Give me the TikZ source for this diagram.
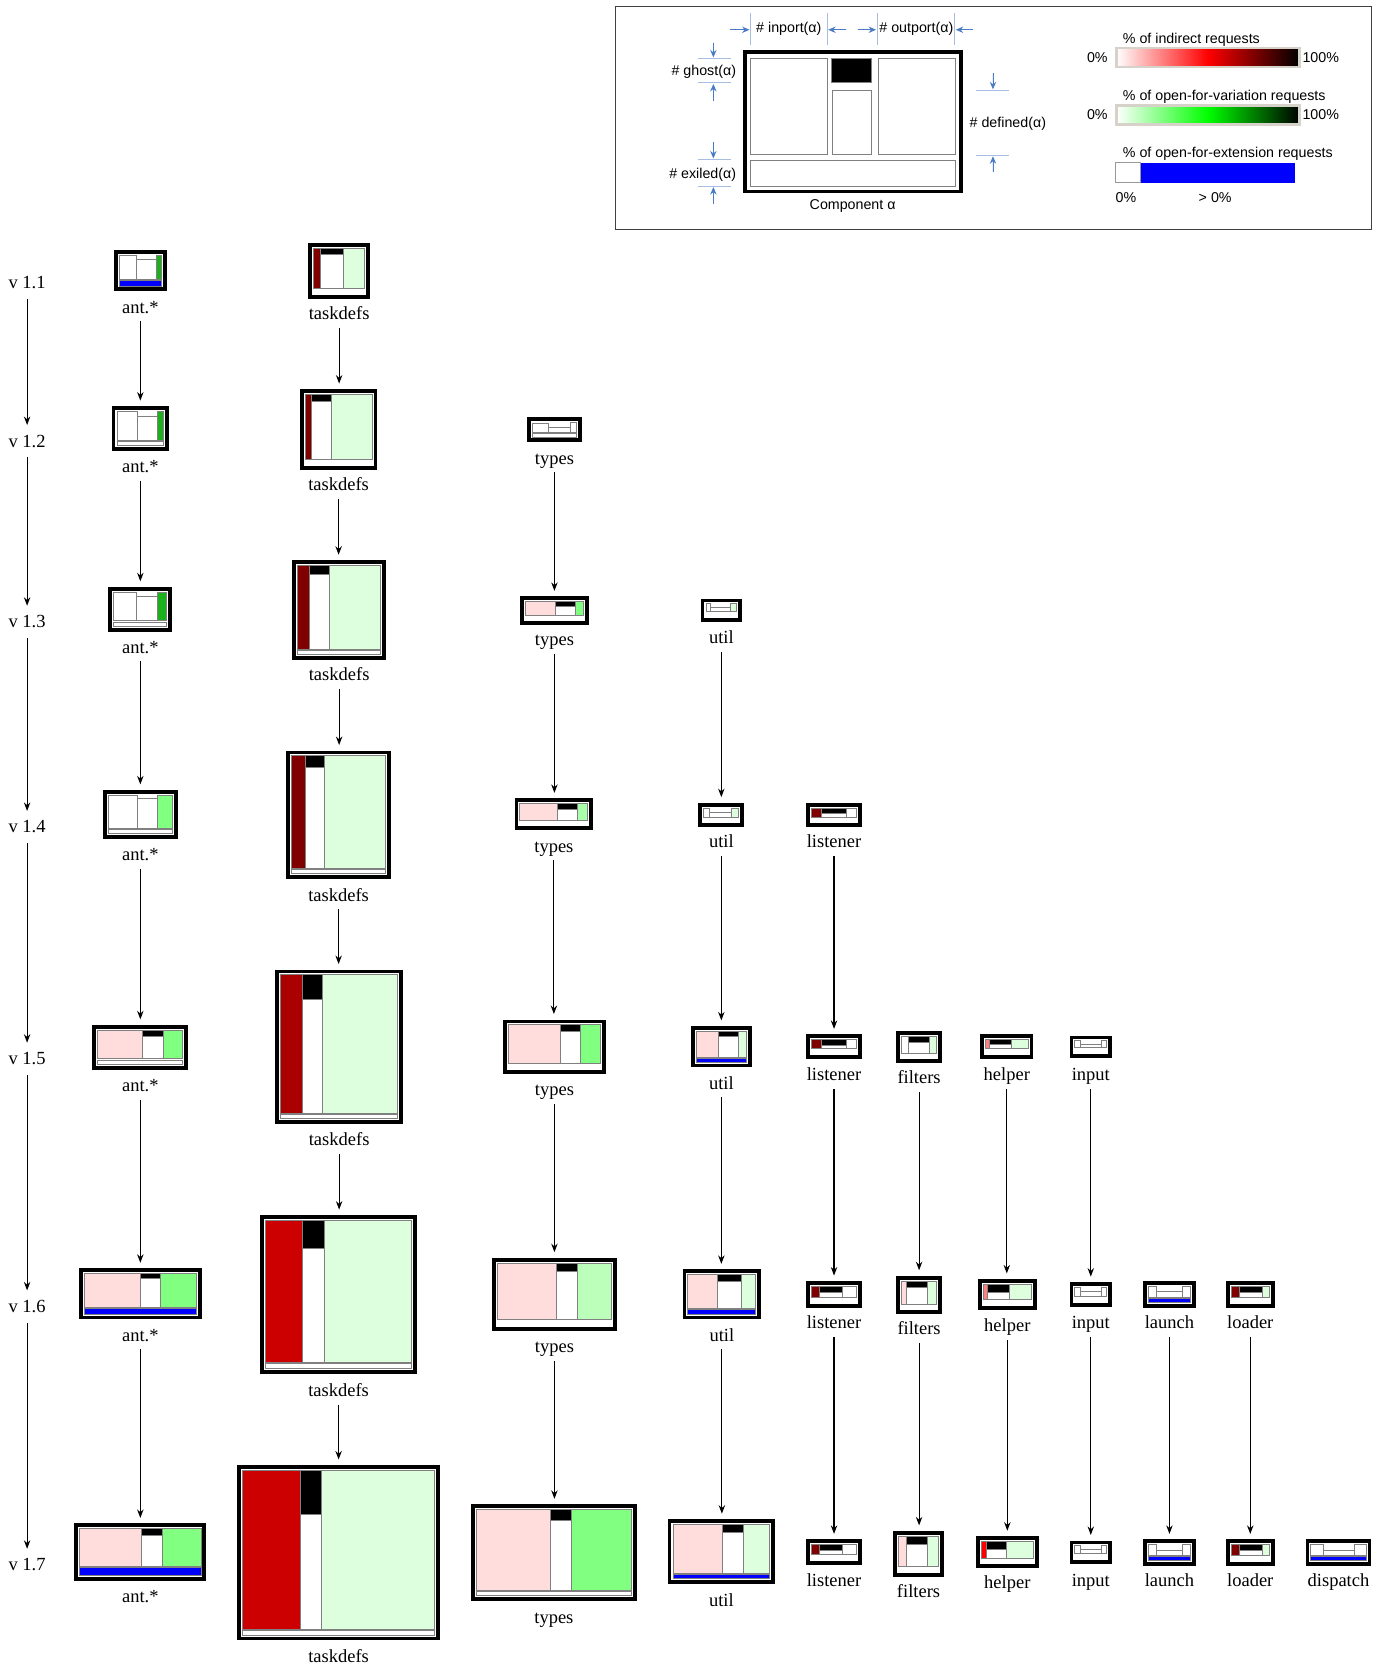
\documentclass[tikz,border=0pt]{standalone}
\usepackage{fontspec}
\setmainfont{Liberation Serif}
\newfontfamily\legfamily{Liberation Sans}
\usetikzlibrary{arrows.meta}

\definecolor{dred}{HTML}{800000}
\definecolor{mred}{HTML}{AA0000}
\definecolor{bred}{HTML}{CC0000}
\definecolor{lgreen}{HTML}{DDFFDD}
\definecolor{mgreen}{HTML}{80FF80}
\definecolor{tgreen}{HTML}{BBFFBB}
\definecolor{sgreen}{HTML}{AAFFAA}
\definecolor{agreen}{HTML}{1CB01C}
\definecolor{pinkc}{HTML}{FFDDDD}
\definecolor{salmon}{HTML}{FF8080}
\definecolor{exblue}{HTML}{0000FF}
\definecolor{legblue}{HTML}{4A7CC4}
\definecolor{tickblue}{HTML}{A8BEE0}
\definecolor{barrim}{HTML}{D6D2CA}
\definecolor{puregreen}{HTML}{00FF00}

\newcommand\labfont{\fontsize{17.4}{20}\selectfont}
\newcommand\legf{\legfamily\fontsize{13.4}{15}\selectfont}

\tikzset{
 cframe/.style={draw=black, line width=3.6pt, fill=white, inner sep=0pt, outer sep=0pt},
 cell/.style={draw=black!50, line width=0.8pt},
 lab/.style={font=\labfont, inner sep=0pt, text height=14.5pt, text depth=1.5pt},
 conn/.style={-{Stealth[length=8pt,width=6pt]}, line width=1.1pt, shorten <=6pt, shorten >=7pt},
 vconn/.style={conn, shorten <=8pt, shorten >=6pt},
 leg/.style={font=\legf, inner sep=0pt},
 dimarrow/.style={-{Stealth[length=7pt,width=6pt]}, draw=legblue, fill=legblue, line width=0.9pt},
 dimtick/.style={draw=tickblue, line width=0.8pt},
}

\newif\ifcpbar
\pgfkeys{/cp/.is family, /cp/.cd,
 box/.code args={#1,#2,#3,#4}{\def\cpXa{#1}\def\cpYa{#2}\def\cpXb{#3}\def\cpYb{#4}},
 in/.store in=\cpIn, mid/.store in=\cpMid,
 hi/.store in=\cpHi, hm/.store in=\cpHm, ho/.store in=\cpHo,
 g/.store in=\cpG, e/.store in=\cpE,
 ci/.store in=\cpCi, co/.store in=\cpCo,
 ce/.code={\def\cpCe{#1}\cpbartrue},
 ly/.store in=\cpLy}

\newcommand\comp[3]{%
 \cpbarfalse
 \pgfkeys{/cp/.cd, in=.33, mid=.34, hi=1, hm=1, ho=1, g=0, e=4.5, ci=white, co=white, #2}%
 \pgfmathsetmacro\cpCx{(\cpXa+\cpXb)/2}%
 \pgfmathsetmacro\cpCy{(\cpYa+\cpYb)/2}%
 \pgfmathsetmacro\cpW{\cpXb-\cpXa-3.6}%
 \pgfmathsetmacro\cpH{\cpYb-\cpYa-3.6}%
 \node[cframe, minimum width=\cpW pt, minimum height=\cpH pt] (#1) at (\cpCx,\cpCy) {};%
 \pgfmathsetmacro\cpL{\cpXa+5}%
 \pgfmathsetmacro\cpR{\cpXb-5}%
 \pgfmathsetmacro\cpT{\cpYa+5}%
 \pgfmathsetmacro\cpB{\cpYb-5}%
 \pgfmathsetmacro\cpU{\cpB-\cpE}%
 \pgfmathsetmacro\cpUH{\cpU-\cpT}%
 \pgfmathsetmacro\cpXi{\cpL+\cpIn*(\cpR-\cpL)}%
 \pgfmathsetmacro\cpXm{\cpXi+\cpMid*(\cpR-\cpL)}%
 \pgfmathsetmacro\cpMt{\cpU-\cpHm*\cpUH}%
 \pgfmathsetmacro\cpGb{\cpMt+\cpG*\cpHm*\cpUH}%
 \pgfmathsetmacro\cpIt{\cpU-\cpHi*\cpUH}%
 \pgfmathsetmacro\cpOt{\cpU-\cpHo*\cpUH}%
 \pgfmathsetmacro\cpBt{\cpU+1}%
 \path[cell, fill=\cpCi] (\cpL,\cpIt) rectangle (\cpXi,\cpU);%
 \ifdim\cpG pt>0pt \path[cell, fill=black] (\cpXi,\cpMt) rectangle (\cpXm,\cpGb);\fi
 \path[cell, fill=white] (\cpXi,\cpGb) rectangle (\cpXm,\cpU);%
 \path[cell, fill=\cpCo] (\cpXm,\cpOt) rectangle (\cpR,\cpU);%
 \ifcpbar \path[cell, fill=\cpCe] (\cpL,\cpBt) rectangle (\cpR,\cpB);\fi
 \node[lab] (#1l) at (\cpCx,\cpLy) {#3};%
}

\begin{document}
\begin{tikzpicture}[x=1pt,y=-1pt]
\useasboundingbox (0,0) rectangle (1306,1568);

% ---------------- legend ----------------
\node[draw=black!75, line width=1.2pt, minimum width=711pt, minimum height=210pt, inner sep=0pt] (legend) at (934.5,111) {};
\node[cframe, minimum width=203.4pt, minimum height=131.4pt] (legc) at (802.5,114.5) {};
\path[cell, fill=white] (706,55) rectangle (778,145);
\path[cell, fill=black] (782,55) rectangle (820,78);
\path[cell, fill=white] (783,85) rectangle (820,145);
\path[cell, fill=white] (826,55) rectangle (899,145);
\path[cell, fill=white] (706,151) rectangle (899,175);
\node[leg] (legcl) at (802,194) {Component α};

\node[leg] (lin) at (742,27) {\# inport(α)};
\node[leg] (lout) at (862,27) {\# outport(α)};
\node[leg] (lgh) at (662,68) {\# ghost(α)};
\node[leg] (lex) at (661,164) {\# exiled(α)};
\node[leg] (ldef) at (948,116) {\# defined(α)};

% ticks
\draw[dimtick] (706,12) -- (706,42);
\draw[dimtick] (778,12) -- (778,42);
\draw[dimtick] (825,12) -- (825,42);
\draw[dimtick] (898,12) -- (898,42);
\draw[dimtick] (657,55) -- (688,55);
\draw[dimtick] (657,78) -- (688,78);
\draw[dimtick] (657,150) -- (688,150);
\draw[dimtick] (657,175) -- (688,175);
\draw[dimtick] (918,85) -- (949,85);
\draw[dimtick] (918,146) -- (949,146);
% arrows
\draw[dimarrow] (687,28) -- (705,28);
\draw[dimarrow] (796,28) -- (779,28);
\draw[dimarrow] (807,28) -- (824,28);
\draw[dimarrow] (915,28) -- (899,28);
\draw[dimarrow] (671,40) -- (671,54);
\draw[dimarrow] (671,95) -- (671,79);
\draw[dimarrow] (671,134) -- (671,149);
\draw[dimarrow] (671,192) -- (671,176);
\draw[dimarrow] (934,69) -- (934,84);
\draw[dimarrow] (934,162) -- (934,147);

% colour bars
\node[leg, anchor=west] (b1t) at (1056,37) {\% of indirect requests};
\path[draw=barrim, line width=2.5pt, left color=white, right color=black, middle color=red] (1050,45) rectangle (1222,63);
\node[leg, anchor=east] (b1a) at (1042,54) {0\%};
\node[leg, anchor=west] (b1b) at (1225,54) {100\%};
\node[leg, anchor=west] (b2t) at (1056,91) {\% of open-for-variation requests};
\path[draw=barrim, line width=2.5pt, left color=white, right color=black, middle color=puregreen] (1050,99) rectangle (1222,117);
\node[leg, anchor=east] (b2a) at (1042,108) {0\%};
\node[leg, anchor=west] (b2b) at (1225,108) {100\%};
\node[leg, anchor=west] (b3t) at (1056,145) {\% of open-for-extension requests};
\path[draw=black!40, line width=0.8pt, fill=white] (1049,153) rectangle (1073,172);
\path[fill=exblue] (1073,153) rectangle (1218,172);
\node[leg] (b3a) at (1059,186) {0\%};
\node[leg] (b3b) at (1143,186) {> 0\%};

% ---------------- versions ----------------
\node[lab] (v11) at (25.5,265) {v 1.1};
\node[lab] (v12) at (25.5,414) {v 1.2};
\node[lab] (v13) at (25.5,584) {v 1.3};
\node[lab] (v14) at (25.5,777) {v 1.4};
\node[lab] (v15) at (25.5,995) {v 1.5};
\node[lab] (v16) at (25.5,1228) {v 1.6};
\node[lab] (v17) at (25.5,1471) {v 1.7};
\draw[vconn] (v11) -- (v12);
\draw[vconn] (v12) -- (v13);
\draw[vconn] (v13) -- (v14);
\draw[vconn] (v14) -- (v15);
\draw[vconn] (v15) -- (v16);
\draw[vconn] (v16) -- (v17);

% ---------------- ant.* ----------------
\comp{a11}{box={107,235,157,274}, in=.40, mid=.47, hm=.81, co=agreen, e=6.5, ce=exblue, ly=288}{ant.*}
\comp{a12}{box={105,382,159,424}, in=.43, mid=.44, hm=.82, co=agreen, e=5, ce=white, ly=438}{ant.*}
\comp{a13}{box={102,552,162,594}, in=.42, mid=.40, hm=.85, co=agreen, e=5, ce=white, ly=608}{ant.*}
\comp{a14}{box={97,743,167,789}, in=.45, mid=.32, hm=.9, co=mgreen, e=5, ce=white, ly=803}{ant.*}
\comp{a15}{box={87,964,177,1006}, in=.52, mid=.25, g=.21, ci=pinkc, co=mgreen, e=5, ce=white, ly=1020}{ant.*}
\comp{a16}{box={74,1193,190,1241}, in=.50, mid=.18, g=.15, ci=pinkc, co=mgreen, e=6.5, ce=exblue, ly=1255}{ant.*}
\comp{a17}{box={70,1433,194,1487}, in=.51, mid=.17, g=.17, ci=pinkc, co=mgreen, e=8.5, ce=exblue, ly=1501}{ant.*}

% ---------------- taskdefs ----------------
\comp{t11}{box={290,229,348,281}, in=.14, mid=.44, g=.15, ci=dred, co=lgreen, e=5, ly=294}{taskdefs}
\comp{t12}{box={282,366,355,442}, in=.10, mid=.30, g=.11, ci=dred, co=lgreen, e=4.5, ly=455}{taskdefs}
\comp{t13}{box={275,527,363,621}, in=.14, mid=.24, g=.11, ci=dred, co=lgreen, e=5, ce=white, ly=634}{taskdefs}
\comp{t14}{box={269,706,368,827}, in=.15, mid=.20, g=.10, ci=dred, co=lgreen, e=5, ce=white, ly=841}{taskdefs}
\comp{t15}{box={259,912,379,1057}, in=.19, mid=.17, g=.18, ci=mred, co=lgreen, e=5, ce=white, ly=1071}{taskdefs}
\comp{t16}{box={245,1143,392,1292}, in=.25, mid=.15, g=.20, ci=bred, co=lgreen, e=5.5, ce=white, ly=1307}{taskdefs}
\comp{t17}{box={223,1378,414,1543}, in=.30, mid=.11, g=.28, ci=bred, co=lgreen, e=5.6, ce=white, ly=1557}{taskdefs}

% ---------------- types ----------------
\comp{y12}{box={496,392,547,416}, in=.36, mid=.50, hm=.5, hi=.85, e=4.5, ce=white, ly=430}{types}
\comp{y13}{box={489,561,554,588}, in=.51, mid=.35, g=.38, ci=pinkc, co=mgreen, ly=601}{types}
\comp{y14}{box={484,751,558,781}, in=.55, mid=.30, g=.32, ci=pinkc, co=sgreen, ly=795}{types}
\comp{y15}{box={473,959,570,1010}, in=.56, mid=.22, g=.17, ci=pinkc, co=mgreen, e=5, ly=1024}{types}
\comp{y16}{box={463,1183,580,1252}, in=.52, mid=.18, g=.14, ci=pinkc, co=tgreen, e=5.5, ly=1266}{types}
\comp{y17}{box={443,1415,599,1506}, in=.48, mid=.135, g=.14, ci=pinkc, co=mgreen, e=5.5, ce=white, ly=1521}{types}

% ---------------- util ----------------
\comp{u13}{box={659,563,698,585}, in=.16, mid=.62, hm=.5, co=lgreen, ly=599}{util}
\comp{u14}{box={657,755,700,778}, in=.16, mid=.62, hm=.5, co=lgreen, ly=791}{util}
\comp{u15}{box={650,965,707,1004}, in=.44, mid=.41, g=.21, ci=pinkc, co=lgreen, ce=exblue, ly=1018}{util}
\comp{u16}{box={642,1194,716,1241}, in=.43, mid=.35, g=.20, ci=pinkc, co=lgreen, e=5, ce=exblue, ly=1255}{util}
\comp{u17}{box={628,1429,729,1490}, in=.51, mid=.22, g=.16, ci=pinkc, co=lgreen, e=5, ce=exblue, ly=1505}{util}

% ---------------- listener ----------------
\comp{l14}{box={758,755,811,778}, in=.23, mid=.53, g=.6, ci=dred, ly=791}{listener}
\comp{l15}{box={758,973,811,996}, in=.23, mid=.53, g=.6, ci=dred, ly=1010}{listener}
\comp{l16}{box={758,1205,811,1230}, in=.19, mid=.50, g=.55, ci=dred, ly=1243}{listener}
\comp{l17}{box={758,1448,811,1472}, in=.19, mid=.50, g=.55, ci=dred, ly=1486}{listener}

% ---------------- filters ----------------
\comp{f15}{box={843,970,886,1000}, in=.19, mid=.61, g=.36, co=lgreen, ly=1013}{filters}
\comp{f16}{box={843,1200,886,1236}, in=.14, mid=.61, g=.27, ci=pinkc, co=lgreen, ly=1249}{filters}
\comp{f17}{box={840,1440,888,1483}, in=.20, mid=.53, g=.26, ci=pinkc, co=lgreen, ly=1496}{filters}

% ---------------- helper ----------------
\comp{h15}{box={922,973,972,996}, in=.10, mid=.52, g=.5, ci=salmon, co=lgreen, ly=1010}{helper}
\comp{h16}{box={920,1203,975,1232}, in=.09, mid=.45, g=.5, ci=salmon, co=lgreen, ly=1246}{helper}
\comp{h17}{box={918,1445,977,1475}, in=.09, mid=.40, g=.46, ci=red, co=lgreen, ly=1488}{helper}

% ---------------- input ----------------
\comp{i15}{box={1006,974,1046,995}, in=.16, mid=.68, hm=.55, ly=1010}{input}
\comp{i16}{box={1006,1206,1046,1229}, in=.16, mid=.68, hm=.55, ly=1243}{input}
\comp{i17}{box={1006,1449,1046,1471}, in=.16, mid=.68, hm=.55, ly=1486}{input}

% ---------------- launch / loader / dispatch ----------------
\comp{la16}{box={1075,1205,1125,1230}, in=.20, mid=.60, hm=.5, e=5, ce=exblue, ly=1243}{launch}
\comp{la17}{box={1075,1448,1125,1473}, in=.20, mid=.60, hm=.5, e=5, ce=exblue, ly=1486}{launch}
\comp{lo16}{box={1153,1205,1199,1230}, in=.21, mid=.60, g=.55, ci=dred, co=lgreen, ly=1243}{loader}
\comp{lo17}{box={1153,1448,1199,1473}, in=.21, mid=.60, g=.55, ci=dred, co=lgreen, ly=1486}{loader}
\comp{d17}{box={1228,1448,1290,1473}, in=.22, mid=.56, hm=.5, e=5, ce=exblue, ly=1486}{dispatch}

% ---------------- evolution arrows ----------------
\foreach \s/\t in {a11/a12,a12/a13,a13/a14,a14/a15,a15/a16,a16/a17,
  t11/t12,t12/t13,t13/t14,t14/t15,t15/t16,t16/t17,
  y12/y13,y13/y14,y14/y15,y15/y16,y16/y17,
  u13/u14,u14/u15,u15/u16,u16/u17,
  l14/l15,l15/l16,l16/l17,
  f15/f16,f16/f17, h15/h16,h16/h17, i15/i16,i16/i17,
  la16/la17, lo16/lo17}
  \draw[conn] (\s l.south) -- (\s l.south |- \t.north);

\end{tikzpicture}
\end{document}
